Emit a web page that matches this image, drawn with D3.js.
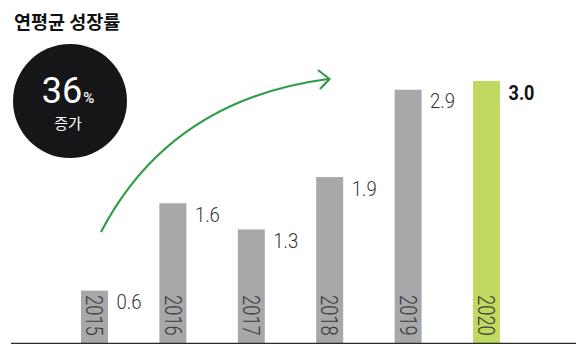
<!DOCTYPE html>
<html><head><meta charset="utf-8">
<script src="https://cdn.jsdelivr.net/npm/d3@7"></script>
<style>
html,body{margin:0;padding:0;background:#fff;}
svg{display:block;}
</style></head>
<body>
<svg id="chart" width="576" height="344"></svg>
<script>
const years = ["2015","2016","2017","2018","2019","2020"];
const values = [0.6, 1.6, 1.3, 1.9, 2.9, 3.0];
const valueLabels = ["0.6","1.6","1.3","1.9","2.9","3.0"];
const highlight = [false,false,false,false,false,true];
const title = "연평균 성장률";
const badgeValue = "36";
const badgeUnit = "%";
const badgeText = "증가";

const svg = d3.select("#chart");
const baseY = 343;
const x = d3.scaleBand().domain(years).range([81, 500]).paddingInner(0.656).paddingOuter(0);
const y = d3.scaleLinear().domain([0, 3]).range([baseY, 81]);
const data = years.map((yr,i)=>({yr, v:values[i], lab:valueLabels[i], hi:highlight[i]}));

// title
svg.append("text").attr("x",14).attr("y",29)
  .attr("font-family","'Noto Sans CJK KR', sans-serif").attr("font-weight",700)
  .attr("font-size",18.5).attr("fill","#111").text(title);

// badge
svg.append("circle").attr("cx",70).attr("cy",101).attr("r",57).attr("fill","#151618");
const t = svg.append("text").attr("x",68).attr("y",103).attr("text-anchor","middle")
  .attr("fill","#fff").attr("font-family","Roboto, sans-serif");
t.append("tspan").attr("font-size",36).attr("font-weight",400).text(badgeValue);
t.append("tspan").attr("font-size",15).attr("font-weight",500).attr("dx",1).text(badgeUnit);
svg.append("text").attr("x",68).attr("y",129).attr("text-anchor","middle")
  .attr("fill","#fff").attr("font-family","'Noto Sans CJK KR', sans-serif")
  .attr("font-size",15).text(badgeText);

// arrow
const green = "#2e9e46";
const path = d3.path();
path.moveTo(101,232);
path.quadraticCurveTo(170,100,328,79);
svg.append("path").attr("d",path.toString()).attr("fill","none")
  .attr("stroke",green).attr("stroke-width",2.2);
svg.append("path").attr("d","M318,70 L329.5,79 L320,89").attr("fill","none")
  .attr("stroke",green).attr("stroke-width",2.2).attr("stroke-linejoin","miter");

// bars
svg.selectAll("rect.bar").data(data).join("rect").attr("class","bar")
  .attr("x",d=>x(d.yr)).attr("width",x.bandwidth())
  .attr("y",d=>y(d.v)).attr("height",d=>baseY-y(d.v))
  .attr("fill",d=>d.hi?"#bfd961":"#a7a8aa");

// baseline
svg.append("line").attr("x1",11).attr("x2",576).attr("y1",343.5).attr("y2",343.5)
  .attr("stroke","#2a2a2a").attr("stroke-width",1.6);

// value labels
svg.selectAll("text.val").data(data).join("text").attr("class","val")
  .attr("x",d=>x(d.yr)+x.bandwidth()+8.5).attr("y",d=>y(d.v)+18.5)
  .attr("font-family","Roboto, sans-serif")
  .attr("font-weight",d=>d.hi?700:300)
  .attr("font-size",d=>d.hi?20:21)
  .attr("fill",d=>d.hi?"#111":"#333")
  .attr("textLength",d=>d.hi?26:25).attr("lengthAdjust","spacingAndGlyphs")
  .text(d=>d.lab);

// year labels rotated (condensed via horizontal scale)
svg.selectAll("text.yr").data(data).join("text").attr("class","yr")
  .attr("transform",d=>`translate(${x(d.yr)+x.bandwidth()/2},295) rotate(90) scale(0.8,1)`)
  .attr("text-anchor","start").attr("dy","0.36em")
  .attr("font-family","Roboto, sans-serif").attr("font-weight",300)
  .attr("font-size",23).attr("fill","#3a3a3a")
  .text(d=>d.yr);
</script>
</body></html>
